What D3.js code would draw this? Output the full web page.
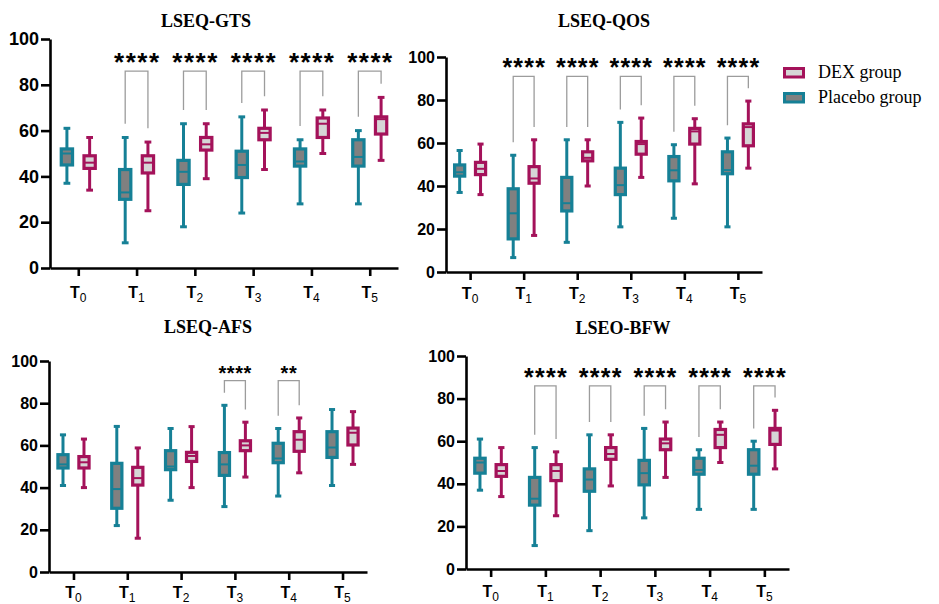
<!DOCTYPE html>
<html>
<head>
<meta charset="utf-8">
<script src="https://cdn.jsdelivr.net/npm/d3@7"></script>
<style>
  body { margin: 0; background: #fff; }
</style>
</head>
<body>
<svg id="chart" width="939" height="604"></svg>
<script>
const timepoints = ['0', '1', '2', '3', '4', '5'];
const groupNames = ['DEX group', 'Placebo group'];
const yTicks = [0, 20, 40, 60, 80, 100];

// each row: [min, q1, median, q3, max]
const gtsPlacebo = [
  [37, 45, 50, 52, 61],
  [11, 30, 33, 43, 57],
  [18, 36.5, 42, 47, 63],
  [24, 39.5, 45, 51, 66],
  [28, 44.5, 46.5, 52, 56],
  [28, 44.5, 48.5, 56, 60]
];
const gtsDex = [
  [34, 43.5, 46, 49, 57],
  [25, 41.5, 46, 49, 55],
  [39, 51.5, 54, 57, 63],
  [43, 56, 59, 61, 69],
  [50, 57, 63, 65.5, 69],
  [47, 58.5, 65, 66, 74.5]
];
const gtsSig = ['', '****', '****', '****', '****', '****'];

const qosPlacebo = [
  [37, 44.6, 46.4, 49.8, 56.5],
  [6.7, 15.4, 27.3, 38.7, 54.3],
  [13.8, 28.4, 32, 44, 61.5],
  [21, 36, 40.4, 48.3, 69.6],
  [25, 42.4, 47.3, 53.7, 59.2],
  [21, 45.7, 47.4, 55.9, 62.3]
];
const qosDex = [
  [36, 45.3, 48, 51, 59.5],
  [17, 41.3, 43.5, 49, 61.5],
  [40, 51.7, 53.1, 55.9, 61.5],
  [44, 54.8, 59.5, 60.7, 71.6],
  [41, 59.5, 65.4, 66.8, 71.3],
  [48.3, 58.7, 67.4, 68.9, 79.5]
];
const qosSig = ['', '****', '****', '****', '****', '****'];

const afsPlacebo = [
  [41, 49.3, 51, 55.6, 65],
  [22, 30.2, 39.3, 51.5, 69],
  [34, 48.5, 50, 57.5, 68],
  [31, 45.8, 51, 56.6, 79],
  [36, 51.8, 53.8, 61, 68],
  [41, 54.3, 59, 66.5, 77]
];
const afsDex = [
  [40, 49.3, 52, 54.7, 63],
  [16, 41.2, 44.5, 49.6, 58.8],
  [40, 52.4, 55, 56.7, 68.9],
  [45, 57.5, 60, 62.2, 71],
  [47, 57.2, 62.7, 66.5, 73],
  [51, 60.2, 66, 68.2, 76]
];
const afsSig = ['', '', '', '****', '**', ''];

const bfwPlacebo = [
  [37, 45, 50, 52, 61],
  [11, 30, 33, 43, 57],
  [18, 36.5, 42, 47, 63],
  [24, 39.5, 45, 51, 66],
  [28, 44.5, 46.5, 52, 56],
  [28, 44.5, 48.5, 56, 60]
];
const bfwDex = [
  [34, 43.5, 46, 49, 57],
  [25, 41.5, 46, 49, 55],
  [39, 51.5, 54, 57, 63],
  [43, 56, 59, 61, 69],
  [50, 57, 63, 65.5, 69],
  [47, 58.5, 65, 66, 74.5]
];
const bfwSig = ['', '****', '****', '****', '****', '****'];

const placeboStyle = { stroke: '#168096', fill: '#808080' };
const dexStyle = { stroke: '#a4125a', fill: '#d6d6d6' };
const bracketColor = '#9c9c9c';
const sansFont = "'Liberation Sans', Arial, sans-serif";
const serifFont = "'Liberation Serif', 'Times New Roman', 'DejaVu Serif', serif";

const panels = [
  { title: 'LSEQ-GTS', placebo: gtsPlacebo, dex: gtsDex, sig: gtsSig,
    left: 50, right: 398, top: 39, bottom: 268, pad: 0.485,
    titleX: 206, titleY: 27, tickFont: 18, starFont: 26, starSp: 1.5, starAt: 92.6, bracketAt: 86, labelY: 298 },
  { title: 'LSEQ-QOS', placebo: qosPlacebo, dex: qosDex, sig: qosSig,
    left: 446, right: 762, top: 57, bottom: 272, pad: 0.45,
    titleX: 604, titleY: 27, tickFont: 16, starFont: 25, starSp: 1.2, starAt: 97.8, bracketAt: 91, labelY: 299 },
  { title: 'LSEQ-AFS', placebo: afsPlacebo, dex: afsDex, sig: afsSig,
    left: 49, right: 367, top: 361, bottom: 572, pad: 0.455,
    titleX: 208, titleY: 333, tickFont: 16, starFont: 20, starSp: 0.6, starAt: 96.5, bracketAt: 90.7, labelY: 598 },
  { title: 'LSEO-BFW', placebo: bfwPlacebo, dex: bfwDex, sig: bfwSig,
    left: 466, right: 789, top: 356, bottom: 569, pad: 0.45,
    titleX: 623, titleY: 334, tickFont: 16, starFont: 25, starSp: 1.2, starAt: 92.6, bracketAt: 86, labelY: 597 }
];

const svg = d3.select('#chart');

function drawPanel(p) {
  const g = svg.append('g');
  const x = d3.scalePoint().domain(timepoints).range([p.left, p.right]).padding(p.pad);
  const y = d3.scaleLinear().domain([0, 100]).range([p.bottom, p.top]);
  const step = x.step();
  const off = step * 0.195;
  const bw = step * 0.245 - 3;
  const capW = bw * 0.6;

  g.append('text')
    .attr('x', p.titleX).attr('y', p.titleY)
    .attr('text-anchor', 'middle')
    .attr('font-family', serifFont).attr('font-weight', 'bold').attr('font-size', 18)
    .text(p.title);

  // significance brackets
  timepoints.forEach(function (t, i) {
    if (!p.sig[i]) return;
    let xl = x(t) - off, xr = x(t) + off;
    g.append('path')
      .attr('d', 'M' + xl + ',' + y(p.placebo[i][4] + 6) + 'V' + y(p.bracketAt) +
                 'H' + xr + 'V' + y(p.dex[i][4] + 6))
      .attr('fill', 'none').attr('stroke', bracketColor).attr('stroke-width', 1.3);
    g.append('text')
      .attr('x', x(t) + p.starSp / 2).attr('y', y(p.starAt) + p.starFont * 0.58)
      .attr('text-anchor', 'middle')
      .attr('font-family', sansFont).attr('font-weight', 'bold')
      .attr('font-size', p.starFont).attr('letter-spacing', p.starSp)
      .text(p.sig[i]);
  });

  const series = [
    { data: p.placebo, dx: -off, st: placeboStyle },
    { data: p.dex, dx: off, st: dexStyle }
  ];
  series.forEach(function (s) {
    let box = g.selectAll(null).data(s.data).enter().append('g')
      .attr('transform', function (d, i) { return 'translate(' + (x(timepoints[i]) + s.dx) + ',0)'; });
    box.append('line')
      .attr('x1', 0).attr('x2', 0)
      .attr('y1', function (d) { return y(d[0]); })
      .attr('y2', function (d) { return y(d[4]); })
      .attr('stroke', s.st.stroke).attr('stroke-width', 3);
    [0, 4].forEach(function (k) {
      box.append('line')
        .attr('x1', -capW / 2).attr('x2', capW / 2)
        .attr('y1', function (d) { return y(d[k]); })
        .attr('y2', function (d) { return y(d[k]); })
        .attr('stroke', s.st.stroke).attr('stroke-width', 3);
    });
    box.append('rect')
      .attr('x', -bw / 2).attr('width', bw)
      .attr('y', function (d) { return y(d[3]); })
      .attr('height', function (d) { return y(d[1]) - y(d[3]); })
      .attr('fill', s.st.fill).attr('stroke', s.st.stroke).attr('stroke-width', 3.2);
    box.append('line')
      .attr('x1', -bw / 2).attr('x2', bw / 2)
      .attr('y1', function (d) { return y(d[2]); })
      .attr('y2', function (d) { return y(d[2]); })
      .attr('stroke', s.st.stroke).attr('stroke-width', 2);
  });

  // axes
  let ya = g.append('g')
    .attr('transform', 'translate(' + p.left + ',0)')
    .call(d3.axisLeft(y).tickValues(yTicks).tickSize(9).tickSizeOuter(0).tickPadding(2));
  let xa = g.append('g')
    .attr('transform', 'translate(0,' + p.bottom + ')')
    .call(d3.axisBottom(x).tickSize(8).tickSizeOuter(0).tickFormat(''));
  [ya, xa].forEach(function (a) {
    a.select('.domain').attr('stroke', '#000').attr('stroke-width', 2.6);
    a.selectAll('.tick line').attr('stroke', '#000').attr('stroke-width', 2.6);
  });
  ya.selectAll('.tick text')
    .attr('font-family', sansFont).attr('font-weight', 'bold')
    .attr('font-size', p.tickFont).attr('fill', '#000');

  timepoints.forEach(function (t) {
    let lab = g.append('text')
      .attr('x', x(t)).attr('y', p.labelY)
      .attr('text-anchor', 'middle')
      .attr('font-family', sansFont).attr('font-size', 16);
    lab.append('tspan').attr('font-weight', 'bold').text('T');
    lab.append('tspan').attr('dy', 4).attr('font-size', 12).text(t);
  });
}

panels.forEach(drawPanel);

// legend
const legendItems = [
  { name: groupNames[0], st: dexStyle },
  { name: groupNames[1], st: placeboStyle }
];
const legend = svg.append('g').attr('transform', 'translate(783,67)');
legendItems.forEach(function (it, i) {
  let row = legend.append('g').attr('transform', 'translate(0,' + (i * 25) + ')');
  row.append('rect')
    .attr('x', 1.5).attr('y', 1.5).attr('width', 19).attr('height', 8.5)
    .attr('fill', it.st.fill).attr('stroke', it.st.stroke).attr('stroke-width', 3);
  row.append('text')
    .attr('x', 35).attr('y', 11)
    .attr('font-family', serifFont).attr('font-size', 18)
    .text(it.name);
});
</script>
</body>
</html>
